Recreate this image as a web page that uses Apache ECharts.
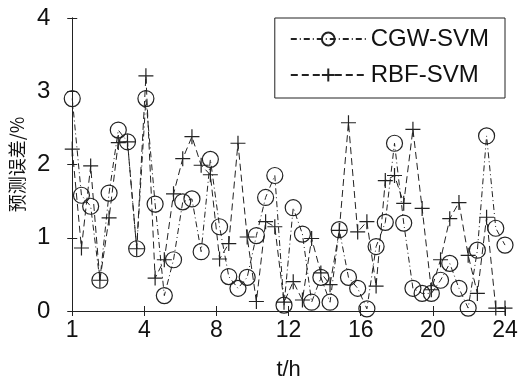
<!DOCTYPE html>
<html>
<head>
<meta charset="utf-8">
<script src="https://cdn.jsdelivr.net/npm/echarts@6/dist/echarts.min.js"></script>
<style>
  html, body { margin: 0; padding: 0; background: #fff; }
  #chart { width: 523px; height: 386px; }
</style>
</head>
<body>
<div id="chart"></div>
<script>
// tick labels on the time axis (equally spaced in the original figure)
const tickLabels = ['1', '4', '8', '12', '16', '20', '24'];
// sample index of each point (48 samples)
const samples = [0, 1, 2, 3, 4, 5, 6, 7, 8, 9, 10, 11, 12, 13, 14, 15, 16, 17, 18, 19, 20, 21, 22, 23,
  24, 25, 26, 27, 28, 29, 30, 31, 32, 33, 34, 35, 36, 37, 38, 39, 40, 41, 42, 43, 44, 45, 46, 47];

// prediction error (%)
const cgwSvm = [2.90, 1.58, 1.43, 0.42, 1.61, 2.47, 2.31, 0.85, 2.90, 1.46,
  0.21, 0.70, 1.49, 1.53, 0.81, 2.07, 1.15, 0.47, 0.31, 0.46,
  1.03, 1.55, 1.85, 0.08, 1.41, 1.05, 0.12, 0.46, 0.12, 1.11,
  0.46, 0.31, 0.03, 0.88, 1.21, 2.29, 1.20, 0.31, 0.24, 0.24,
  0.42, 0.65, 0.31, 0.04, 0.83, 2.39, 1.13, 0.90];
const rbfSvm = [2.21, 0.86, 1.98, 0.42, 1.27, 2.30, 2.31, 0.85, 3.21, 0.45,
  0.70, 1.60, 2.08, 2.38, 1.99, 1.86, 0.71, 0.92, 2.29, 1.01,
  0.13, 1.22, 1.15, 0.12, 0.40, 0.15, 0.99, 0.52, 0.36, 1.10,
  2.57, 1.08, 1.22, 0.34, 1.78, 1.85, 1.47, 2.48, 1.40, 0.29,
  0.70, 1.26, 1.48, 0.76, 0.24, 1.28, 0.04, 0.04];

const ink = '#222';
const font = 'Liberation Sans, Arial, sans-serif';
const plusPath = 'path://M5,0 L5,10 M0,5 L10,5';

const chart = echarts.init(document.getElementById('chart'));

const tickAxis = {
  type: 'value', min: 0, max: 6, interval: 1,
  axisLine: { show: true, lineStyle: { color: ink, width: 1 } },
  axisTick: { show: true, inside: true, length: 5, lineStyle: { color: ink } },
  splitLine: { show: false }
};

const option = {
  animation: false,
  backgroundColor: '#fff',
  grid: { left: 71, right: 18, top: 18, bottom: 73 },
  legend: {
    orient: 'vertical',
    right: 18, top: 18,
    padding: [9, 16, 11, 15],
    itemGap: 12,
    itemWidth: 75, itemHeight: 16,
    borderColor: ink, borderWidth: 1,
    backgroundColor: '#fff',
    textStyle: { fontSize: 24, fontFamily: font, color: '#111' },
    data: ['CGW-SVM', 'RBF-SVM']
  },
  xAxis: [
    Object.assign({}, tickAxis, {
      position: 'bottom',
      axisLabel: {
        margin: 8, fontSize: 23, fontFamily: font, color: '#111',
        formatter: v => tickLabels[Math.round(v)]
      },
      name: 't/h', nameLocation: 'middle', nameGap: 48,
      nameTextStyle: { fontSize: 22, fontFamily: font, color: '#111' }
    }),
    Object.assign({}, tickAxis, { position: 'top', axisLabel: { show: false } }),
    { type: 'value', min: 0, max: 47, show: false }
  ],
  yAxis: [
    Object.assign({}, tickAxis, {
      min: 0, max: 4, interval: 1, position: 'left',
      axisLabel: { margin: 22, fontSize: 24, fontFamily: font, color: '#111' },
      name: '预测误差/%', nameLocation: 'middle', nameGap: 45,
      nameTextStyle: { fontSize: 18, fontFamily: 'Noto Sans CJK SC', color: '#111' }
    }),
    Object.assign({}, tickAxis, {
      min: 0, max: 4, interval: 1, position: 'right', axisLabel: { show: false }
    })
  ],
  series: [
    {
      name: 'CGW-SVM', type: 'line', xAxisIndex: 2, yAxisIndex: 0,
      data: samples.map((s, i) => [s, cgwSvm[i]]),
      symbol: 'circle', symbolSize: 16,
      itemStyle: { color: 'rgba(0,0,0,0)', borderColor: ink, borderWidth: 1.2 },
      lineStyle: { color: ink, width: 1, type: [6, 3, 1, 3] }
    },
    {
      name: 'RBF-SVM', type: 'line', xAxisIndex: 2, yAxisIndex: 0,
      data: samples.map((s, i) => [s, rbfSvm[i]]),
      symbol: plusPath, symbolSize: 15,
      itemStyle: { color: 'rgba(0,0,0,0)', borderColor: ink, borderWidth: 1.2 },
      lineStyle: { color: ink, width: 1, type: [7, 4] }
    }
  ]
};

chart.setOption(option);
</script>
</body>
</html>
